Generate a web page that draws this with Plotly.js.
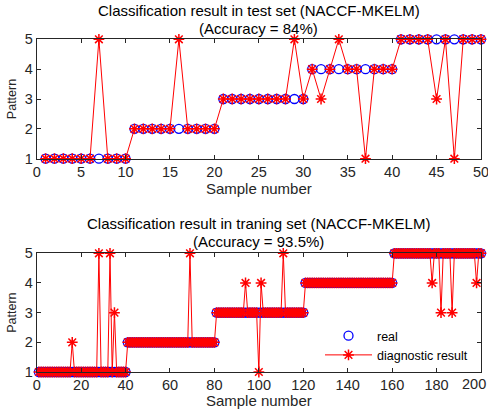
<!DOCTYPE html>
<html>
<head>
<meta charset="utf-8">
<script src="https://cdn.plot.ly/plotly-3.0.1.min.js"></script>
<style>html,body{margin:0;padding:0;background:#fff;}#chart{width:488px;height:409px;}</style>
</head>
<body>
<div id="chart"></div>
<script>
// ---- Test set (50 samples) ----
var testReal = [
  1,1,1,1,1,1,1,1,1,1,
  2,2,2,2,2,2,2,2,2,2,
  3,3,3,3,3,3,3,3,3,3,
  4,4,4,4,4,4,4,4,4,4,
  5,5,5,5,5,5,5,5,5,5
];
var testPred = [
  1,1,1,1,1,1,5,1,1,1,
  2,2,2,2,2,5,2,2,2,2,
  3,3,3,3,3,3,3,3,5,3,
  4,3,4,5,4,4,1,4,4,4,
  5,5,5,5,3,5,1,5,5,5
];
// ---- Training set (200 samples) ----
var trainReal = [
  1,1,1,1,1,1,1,1,1,1,1,1,1,1,1,1,1,1,1,1,
  1,1,1,1,1,1,1,1,1,1,1,1,1,1,1,1,1,1,1,1,
  2,2,2,2,2,2,2,2,2,2,2,2,2,2,2,2,2,2,2,2,
  2,2,2,2,2,2,2,2,2,2,2,2,2,2,2,2,2,2,2,2,
  3,3,3,3,3,3,3,3,3,3,3,3,3,3,3,3,3,3,3,3,
  3,3,3,3,3,3,3,3,3,3,3,3,3,3,3,3,3,3,3,3,
  4,4,4,4,4,4,4,4,4,4,4,4,4,4,4,4,4,4,4,4,
  4,4,4,4,4,4,4,4,4,4,4,4,4,4,4,4,4,4,4,4,
  5,5,5,5,5,5,5,5,5,5,5,5,5,5,5,5,5,5,5,5,
  5,5,5,5,5,5,5,5,5,5,5,5,5,5,5,5,5,5,5,5
];
var trainPred = [
  1,1,1,1,1,1,1,1,1,1,1,1,1,1,1,2,1,1,1,1,
  1,1,1,1,1,1,1,5,1,1,1,1,5,1,3,1,1,1,1,1,
  2,2,2,2,2,2,2,2,2,2,2,2,2,2,2,2,2,2,2,2,
  2,2,2,2,2,2,2,2,5,2,2,2,2,2,2,2,2,2,2,2,
  3,3,3,3,3,3,3,3,3,3,3,3,3,4,3,3,3,3,3,1,
  4,3,3,3,3,3,3,3,3,3,5,3,3,3,3,3,3,3,3,3,
  4,4,4,4,4,4,4,4,4,4,4,4,4,4,4,4,4,4,4,4,
  4,4,4,4,4,4,4,4,4,4,4,4,4,4,4,4,4,4,4,4,
  5,5,5,5,5,5,5,5,5,5,5,5,5,5,5,5,5,4,5,5,
  5,3,5,5,5,5,3,5,5,5,5,5,5,5,5,5,5,4,5,5
];
var topTitle1 = "Classification result in test set (NACCF-MKELM)";
var topTitle2 = "(Accuracy = 84%)";
var bottomTitle1 = "Classification result in traning set (NACCF-MKELM)";
var bottomTitle2 = "(Accuracy = 93.5%)";
var xTitle = "Sample number";
var yTitle = "Pattern";
var legendNames = ["real", "diagnostic result"];
var testXTicks = [0,5,10,15,20,25,30,35,40,45,50];
var trainXTicks = [0,20,40,60,80,100,120,140,160,180,200];
var trainXText = ["0","20","40","60","80","100","120","140","160","180",""];
var lastTrainTick = "200";
var yTicks = [1,2,3,4,5];

function idx(a){ return a.map(function(_, i){ return i + 1; }); }

var FONT = "Liberation Sans, Arial, Helvetica, sans-serif";
var AX = "#262626";

function circ(x, y, xa, ya, show){
  return {x:x, y:y, xaxis:xa, yaxis:ya, type:"scatter", mode:"markers", name:legendNames[0],
    showlegend:show, cliponaxis:false,
    marker:{symbol:"circle-open", size:9, color:"#0000ff", line:{width:1.3, color:"#0000ff"}}};
}
function star(x, y, xa, ya, show){
  return {x:x, y:y, xaxis:xa, yaxis:ya, type:"scatter", mode:"lines+markers", name:legendNames[1],
    showlegend:show, cliponaxis:false,
    line:{color:"#ff0000", width:1},
    marker:{symbol:"asterisk-open", size:9, color:"#ff0000", line:{width:1.5, color:"#ff0000"}}};
}

var data = [
  circ(idx(testReal), testReal, "x", "y", false),
  star(idx(testPred), testPred, "x", "y", false),
  circ(idx(trainReal), trainReal, "x2", "y2", true),
  star(idx(trainPred), trainPred, "x2", "y2", true)
];

function xax(range, ticks, text, dom, anchor){
  var a = {domain:dom, anchor:anchor, range:range, tickvals:ticks, ticks:"inside", ticklen:4,
    tickcolor:AX, showline:true, linecolor:AX, linewidth:1, mirror:"ticks", showgrid:false,
    zeroline:false, ticklabeloverflow:"allow", tickfont:{family:FONT, size:14.5, color:AX},
    title:{text:xTitle, font:{family:FONT, size:15, color:AX}, standoff:3}};
  if (text) a.ticktext = text;
  return a;
}
function yax(dom, anchor){
  return {domain:dom, anchor:anchor, range:[1,5], tickvals:yTicks, ticks:"inside", ticklen:4,
    tickcolor:AX, showline:true, linecolor:AX, linewidth:1, mirror:"ticks", showgrid:false,
    zeroline:false, ticklabeloverflow:"allow", tickfont:{family:FONT, size:14.5, color:AX},
    title:{text:yTitle, font:{family:FONT, size:12.5, color:AX}, standoff:5}};
}

var W = 488, H = 409;
var xd = [36.7/W, 481/W];
function ann(text, xpx, ypx, anchor, size, color){
  return {text:text, xref:"paper", yref:"paper", x:xpx/W, y:1-ypx/H, xanchor:anchor, yanchor:"middle",
    showarrow:false, font:{family:FONT, size:size, color:color}};
}
var layout = {
  width:W, height:H, margin:{l:0, r:0, t:0, b:0},
  paper_bgcolor:"#ffffff", plot_bgcolor:"#ffffff",
  font:{family:FONT, color:"#000"},
  xaxis: xax([0,50], testXTicks, null, xd, "y"),
  yaxis: yax([1-158.7/H, 1-39.3/H], "x"),
  xaxis2: xax([0,200], trainXTicks, trainXText, xd, "y2"),
  yaxis2: yax([1-372/H, 1-253.3/H], "x2"),
  showlegend:true,
  legend:{x:320/W, y:1-321/H, xanchor:"left", yanchor:"top", bgcolor:"rgba(0,0,0,0)",
    borderwidth:0, itemwidth:47, font:{family:FONT, size:12.5, color:"#000"}},
  annotations:[
    ann(topTitle1, 258.8, 10.5, "center", 15, "#000"),
    ann(topTitle2, 258.8, 28.3, "center", 15, "#000"),
    ann(bottomTitle1, 258.8, 223.5, "center", 15, "#000"),
    ann(bottomTitle2, 258.8, 241.3, "center", 15, "#000"),
    ann(lastTrainTick, 488, 383.5, "right", 14.5, AX)
  ]
};

Plotly.newPlot("chart", data, layout, {staticPlot:true, displayModeBar:false});
</script>
</body>
</html>
